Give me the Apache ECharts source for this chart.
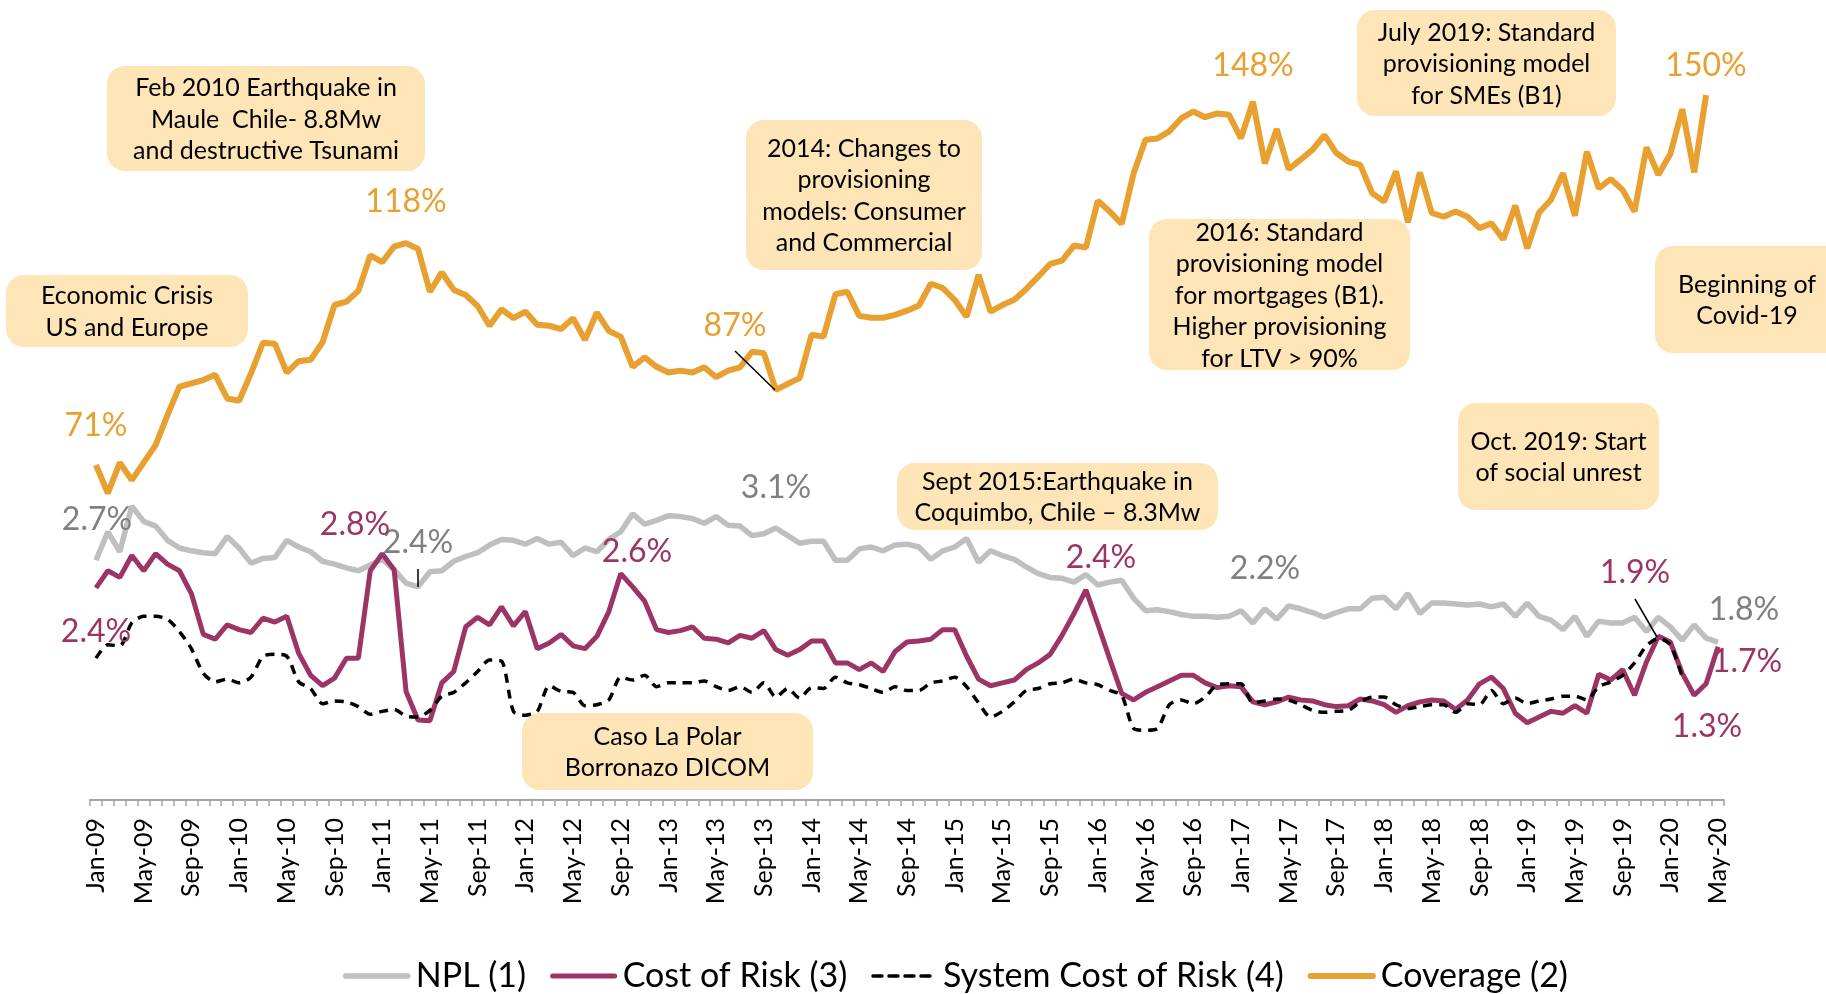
<!DOCTYPE html>
<html>
<head>
<meta charset="utf-8">
<script src="https://cdn.jsdelivr.net/npm/echarts@6/dist/echarts.min.js"></script>
<style>
  html, body { margin: 0; padding: 0; background: #ffffff; }
  #chart { width: 1826px; height: 994px; }
</style>
</head>
<body>
<div id="chart"></div>
<script>
// ---------- categories (monthly, Jan-09 .. May-20) ----------
const categories = [].concat(
  'Jan-09,Feb-09,Mar-09,Apr-09,May-09,Jun-09,Jul-09,Aug-09,Sep-09,Oct-09,Nov-09,Dec-09'.split(','),
  'Jan-10,Feb-10,Mar-10,Apr-10,May-10,Jun-10,Jul-10,Aug-10,Sep-10,Oct-10,Nov-10,Dec-10'.split(','),
  'Jan-11,Feb-11,Mar-11,Apr-11,May-11,Jun-11,Jul-11,Aug-11,Sep-11,Oct-11,Nov-11,Dec-11'.split(','),
  'Jan-12,Feb-12,Mar-12,Apr-12,May-12,Jun-12,Jul-12,Aug-12,Sep-12,Oct-12,Nov-12,Dec-12'.split(','),
  'Jan-13,Feb-13,Mar-13,Apr-13,May-13,Jun-13,Jul-13,Aug-13,Sep-13,Oct-13,Nov-13,Dec-13'.split(','),
  'Jan-14,Feb-14,Mar-14,Apr-14,May-14,Jun-14,Jul-14,Aug-14,Sep-14,Oct-14,Nov-14,Dec-14'.split(','),
  'Jan-15,Feb-15,Mar-15,Apr-15,May-15,Jun-15,Jul-15,Aug-15,Sep-15,Oct-15,Nov-15,Dec-15'.split(','),
  'Jan-16,Feb-16,Mar-16,Apr-16,May-16,Jun-16,Jul-16,Aug-16,Sep-16,Oct-16,Nov-16,Dec-16'.split(','),
  'Jan-17,Feb-17,Mar-17,Apr-17,May-17,Jun-17,Jul-17,Aug-17,Sep-17,Oct-17,Nov-17,Dec-17'.split(','),
  'Jan-18,Feb-18,Mar-18,Apr-18,May-18,Jun-18,Jul-18,Aug-18,Sep-18,Oct-18,Nov-18,Dec-18'.split(','),
  'Jan-19,Feb-19,Mar-19,Apr-19,May-19,Jun-19,Jul-19,Aug-19,Sep-19,Oct-19,Nov-19,Dec-19'.split(','),
  'Jan-20,Feb-20,Mar-20,Apr-20,May-20'.split(',')
);

// ---------- series values (%) ----------
const npl = [
  2.70, 3.00, 2.79, 3.27, 3.11, 3.06, 2.91, 2.83, 2.80, 2.78,
  2.77, 2.95, 2.83, 2.67, 2.72, 2.73, 2.91, 2.84, 2.79, 2.69,
  2.66, 2.62, 2.59, 2.65, 2.71, 2.60, 2.46, 2.42, 2.58, 2.59,
  2.69, 2.74, 2.78, 2.86, 2.92, 2.91, 2.87, 2.93, 2.87, 2.89,
  2.75, 2.83, 2.79, 2.92, 3.00, 3.19, 3.08, 3.12, 3.17, 3.16,
  3.14, 3.09, 3.16, 3.07, 3.06, 2.96, 2.98, 3.04, 2.96, 2.88,
  2.90, 2.90, 2.70, 2.70, 2.82, 2.84, 2.80, 2.86, 2.87, 2.84,
  2.71, 2.80, 2.84, 2.93, 2.68, 2.80, 2.75, 2.71, 2.63, 2.56,
  2.52, 2.51, 2.47, 2.55, 2.44, 2.47, 2.49, 2.30, 2.17, 2.18,
  2.16, 2.13, 2.11, 2.11, 2.10, 2.11, 2.17, 2.04, 2.19, 2.08,
  2.22, 2.19, 2.15, 2.10, 2.15, 2.19, 2.19, 2.30, 2.31, 2.19,
  2.35, 2.14, 2.25, 2.25, 2.24, 2.23, 2.24, 2.21, 2.24, 2.11,
  2.25, 2.11, 2.07, 1.97, 2.11, 1.90, 2.06, 2.04, 2.04, 2.10,
  1.95, 2.10, 2.00, 1.86, 2.02, 1.88, 1.84
];
const costOfRisk = [
  2.41, 2.59, 2.52, 2.75, 2.59, 2.77, 2.66, 2.59, 2.35, 1.92,
  1.87, 2.02, 1.97, 1.94, 2.09, 2.05, 2.11, 1.72, 1.49, 1.38,
  1.46, 1.67, 1.67, 2.59, 2.77, 2.60, 1.32, 1.02, 1.01, 1.41,
  1.53, 2.00, 2.10, 2.02, 2.21, 2.01, 2.16, 1.77, 1.83, 1.92,
  1.80, 1.77, 1.90, 2.16, 2.56, 2.42, 2.27, 1.97, 1.94, 1.96,
  2.00, 1.88, 1.87, 1.83, 1.91, 1.88, 1.96, 1.76, 1.70, 1.76,
  1.85, 1.85, 1.62, 1.62, 1.55, 1.62, 1.53, 1.74, 1.84, 1.85,
  1.87, 1.97, 1.97, 1.69, 1.45, 1.38, 1.41, 1.44, 1.55, 1.62,
  1.71, 1.91, 2.14, 2.39, 2.03, 1.66, 1.30, 1.23, 1.31, 1.37,
  1.43, 1.49, 1.49, 1.41, 1.36, 1.38, 1.37, 1.21, 1.18, 1.21,
  1.26, 1.23, 1.22, 1.18, 1.16, 1.17, 1.24, 1.22, 1.18, 1.10,
  1.17, 1.21, 1.23, 1.22, 1.13, 1.23, 1.40, 1.47, 1.35, 1.09,
  0.99, 1.05, 1.11, 1.09, 1.17, 1.09, 1.50, 1.44, 1.55, 1.28,
  1.63, 1.90, 1.84, 1.51, 1.28, 1.40, 1.79
];
const systemCostOfRisk = [
  1.67, 1.81, 1.80, 2.04, 2.11, 2.11, 2.08, 1.95, 1.77, 1.51,
  1.42, 1.45, 1.41, 1.47, 1.69, 1.71, 1.69, 1.42, 1.35, 1.19,
  1.22, 1.21, 1.16, 1.08, 1.11, 1.13, 1.06, 1.05, 1.12, 1.27,
  1.31, 1.41, 1.53, 1.65, 1.64, 1.11, 1.07, 1.11, 1.38, 1.32,
  1.31, 1.17, 1.18, 1.23, 1.47, 1.44, 1.49, 1.37, 1.41, 1.41,
  1.41, 1.43, 1.37, 1.33, 1.37, 1.31, 1.41, 1.26, 1.35, 1.25,
  1.36, 1.35, 1.47, 1.41, 1.39, 1.35, 1.31, 1.37, 1.33, 1.33,
  1.41, 1.43, 1.47, 1.37, 1.20, 1.05, 1.11, 1.21, 1.33, 1.35,
  1.40, 1.41, 1.45, 1.41, 1.39, 1.33, 1.28, 0.93, 0.91, 0.93,
  1.18, 1.23, 1.19, 1.26, 1.39, 1.40, 1.40, 1.20, 1.22, 1.24,
  1.23, 1.18, 1.12, 1.10, 1.11, 1.12, 1.21, 1.26, 1.26, 1.18,
  1.14, 1.16, 1.18, 1.18, 1.10, 1.19, 1.18, 1.33, 1.19, 1.25,
  1.19, 1.22, 1.24, 1.27, 1.27, 1.23, 1.37, 1.42, 1.49, 1.62,
  1.80, 1.88, 1.81, 1.47, null, null, null
];
const coverage = [
  71.0, 65.0, 71.5, 67.8, 71.5, 75.2, 81.6, 87.6, 88.3, 89.0,
  90.1, 85.1, 84.6, 90.4, 96.9, 96.7, 90.6, 93.0, 93.3, 97.0,
  104.9, 105.6, 107.9, 115.4, 114.0, 117.3, 118.0, 116.8, 107.7, 111.8,
  108.1, 107.0, 104.7, 100.5, 104.0, 102.1, 103.5, 100.7, 100.5, 99.8,
  102.1, 97.5, 103.3, 99.4, 98.2, 91.8, 93.8, 91.8, 90.6, 91.0,
  90.6, 91.7, 89.6, 91.0, 91.7, 95.0, 94.7, 86.9, 88.2, 89.4,
  98.6, 98.2, 107.2, 107.7, 102.6, 102.2, 102.2, 102.8, 103.7, 104.8,
  109.4, 108.5, 106.0, 102.4, 111.3, 103.5, 104.9, 106.0, 108.3, 110.9,
  113.6, 114.3, 117.5, 117.1, 127.0, 124.7, 122.1, 132.8, 139.9, 140.2,
  141.7, 144.5, 145.9, 144.7, 145.5, 145.2, 140.2, 148.0, 134.9, 142.2,
  133.7, 135.7, 137.8, 140.9, 137.1, 135.3, 134.6, 128.6, 126.8, 133.2,
  122.4, 133.0, 124.4, 123.6, 124.7, 123.6, 121.2, 122.2, 118.8, 126.0,
  116.9, 124.5, 127.2, 132.8, 123.8, 137.4, 129.6, 131.6, 129.3, 124.7,
  138.3, 132.5, 136.9, 146.4, 133.0, 149.4, null
];

// ---------- text ----------
const seriesNames = ['NPL (1)', 'Cost of Risk (3)', 'System Cost of Risk (4)', 'Coverage (2)'];
const annotations = [
  'Feb 2010 Earthquake in\nMaule  Chile- 8.8Mw\nand destructive Tsunami',
  'Economic Crisis\nUS and Europe',
  '2014: Changes to\nprovisioning\nmodels: Consumer\nand Commercial',
  'July 2019: Standard\nprovisioning model\nfor SMEs (B1)',
  '2016: Standard\nprovisioning model\nfor mortgages (B1).\nHigher provisioning\nfor LTV > 90%',
  'Beginning of\nCovid-19',
  'Oct. 2019: Start\nof social unrest',
  'Sept 2015:Earthquake in\nCoquimbo, Chile \u2013 8.3Mw',
  'Caso La Polar\nBorronazo DICOM'
];
const coverageLabels = ['71%', '118%', '87%', '148%', '150%'];
const nplLabels = ['2.7%', '2.4%', '3.1%', '2.2%', '1.8%'];
const corLabels = ['2.4%', '2.8%', '2.6%', '2.4%', '1.9%', '1.3%', '1.7%'];

// ---------- style ----------
const FONT = 'Lato';
const C_NPL = '#BFBFBF', C_COR = '#9C3566', C_SYS = '#000000', C_COV = '#E8A030';
const C_BOX = '#FDE5B7';
const C_NPL_TXT = '#808080';

const boxLayout = [
  [107, 66, 318, 105], [6, 275, 242, 72], [746, 120, 236, 150], [1357, 10, 259, 106],
  [1149, 219, 261, 151], [1655, 246, 190, 107], [1458, 403, 201, 107], [897, 463, 321, 67],
  [522, 713, 291, 77]
];
const graphic = [];
annotations.forEach(function (t, k) {
  const b = boxLayout[k];
  graphic.push({ type: 'rect', z: 100, shape: { x: b[0], y: b[1], width: b[2], height: b[3], r: 18 },
    style: { fill: C_BOX } });
  graphic.push({ type: 'text', z: 101, x: b[0] + b[2] / 2 - (k === 5 ? 3 : 0), y: b[1] + b[3] / 2 + 1,
    style: { text: t, fill: '#000', fontFamily: FONT, fontSize: 25, lineHeight: 31.5,
      textAlign: 'center', textVerticalAlign: 'middle', verticalAlign: 'middle' } });
});
function lbl(text, x, y, color) {
  graphic.push({ type: 'text', z: 90, x: x, y: y,
    style: { text: text, fill: color, fontFamily: FONT, fontSize: 32,
      textAlign: 'center', textVerticalAlign: 'middle', verticalAlign: 'middle' } });
}
const covPos = [[96, 426], [406, 202], [735, 326], [1253, 66], [1706, 66]];
coverageLabels.forEach(function (t, k) { lbl(t, covPos[k][0], covPos[k][1], C_COV); });
const nplPos = [[97, 520], [418, 543], [776, 488], [1265, 569], [1744, 610]];
nplLabels.forEach(function (t, k) { lbl(t, nplPos[k][0], nplPos[k][1], C_NPL_TXT); });
const corPos = [[96, 632], [355, 525], [637, 552], [1101, 558], [1635, 573], [1707, 727], [1747, 662]];
corLabels.forEach(function (t, k) { lbl(t, corPos[k][0], corPos[k][1], C_COR); });
// leader lines
[[735, 351, 775, 390], [418, 569, 418, 587], [1635, 599, 1657, 637]].forEach(function (l) {
  graphic.push({ type: 'line', z: 95, shape: { x1: l[0], y1: l[1], x2: l[2], y2: l[3] },
    style: { stroke: '#000', lineWidth: 1.5 } });
});

const chart = echarts.init(document.getElementById('chart'), null, { renderer: 'canvas' });
chart.setOption({
  backgroundColor: '#ffffff',
  animation: false,
  textStyle: { fontFamily: FONT },
  grid: { left: 90, right: 102, top: 45, bottom: 194 },
  legend: {
    top: 954, left: 338,
    itemWidth: 62, itemHeight: 14, itemGap: 24,
    itemStyle: { opacity: 0 },
    lineStyle: { width: 'inherit', cap: 'round' },
    textStyle: { fontSize: 34, fontFamily: FONT, color: '#000', padding: [0, 0, 0, 3] },
    data: seriesNames
  },
  xAxis: {
    type: 'category', data: categories, boundaryGap: true,
    axisLine: { lineStyle: { color: '#A6A6A6', width: 2 } },
    axisTick: { show: true, interval: 0, length: 6, lineStyle: { color: '#A6A6A6', width: 1.5 } },
    axisLabel: { interval: 3, rotate: 90, margin: 18, fontSize: 25, fontFamily: FONT, color: '#000' },
    splitLine: { show: false }
  },
  yAxis: [
    { type: 'value', min: 0.177, max: 8.124, show: false, splitLine: { show: false } },
    { type: 'value', min: 0, max: 160, show: false, splitLine: { show: false } }
  ],
  series: [
    { name: seriesNames[0], type: 'line', data: npl, yAxisIndex: 0, symbol: 'none', showSymbol: false,
      lineStyle: { color: C_NPL, width: 5.5 }, itemStyle: { color: C_NPL }, z: 2 },
    { name: seriesNames[1], type: 'line', data: costOfRisk, yAxisIndex: 0, symbol: 'none', showSymbol: false,
      lineStyle: { color: C_COR, width: 5 }, itemStyle: { color: C_COR }, z: 3 },
    { name: seriesNames[2], type: 'line', data: systemCostOfRisk, yAxisIndex: 0, symbol: 'none', showSymbol: false,
      smooth: 0.25,
      lineStyle: { color: C_SYS, width: 3.5, type: [9, 7] }, itemStyle: { color: C_SYS }, z: 4 },
    { name: seriesNames[3], type: 'line', data: coverage, yAxisIndex: 1, symbol: 'none', showSymbol: false,
      lineStyle: { color: C_COV, width: 6 }, itemStyle: { color: C_COV }, z: 5 }
  ],
  graphic: graphic
});
</script>
</body>
</html>
